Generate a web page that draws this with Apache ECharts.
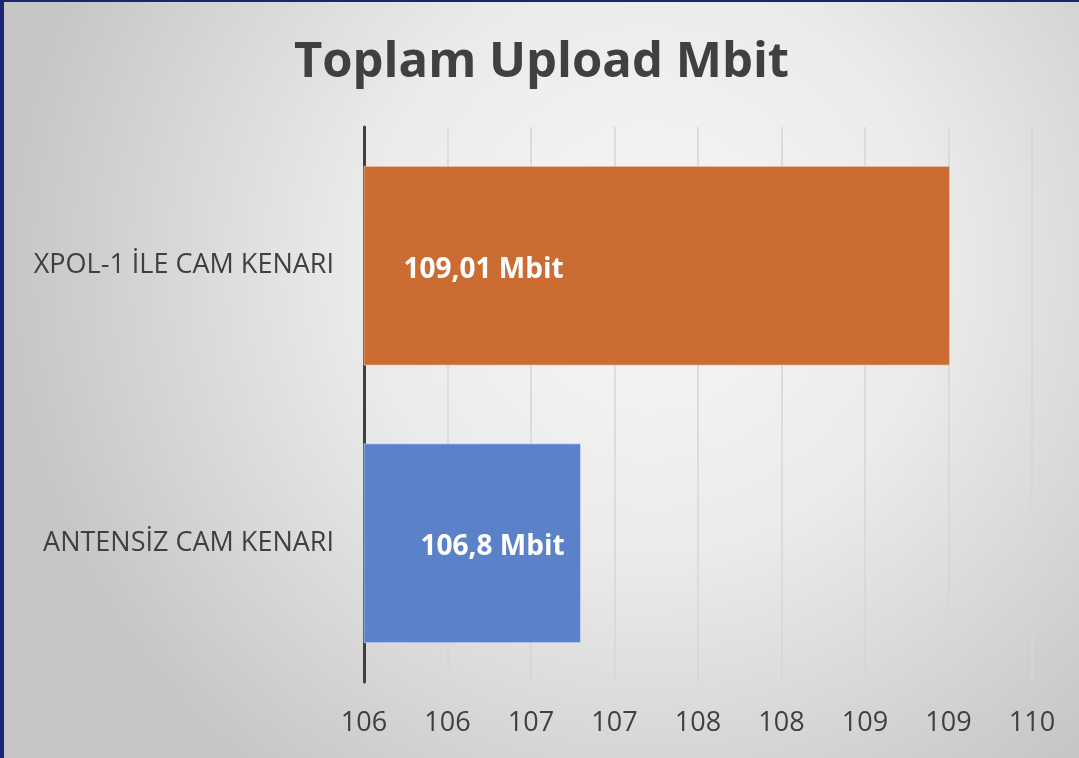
<!DOCTYPE html>
<html>
<head>
<meta charset="utf-8">
<script src="https://cdn.jsdelivr.net/npm/echarts@6/dist/echarts.min.js"></script>
<style>
  html, body { margin: 0; padding: 0; background: #1b2572; overflow: hidden; }
  #chart { position: absolute; left: 4px; top: 2px; width: 1075px; height: 756px; }
</style>
</head>
<body>
<div id="chart"></div>
<script>
// Toplam Upload Mbit - horizontal bar chart
var categories = ['ANTENSİZ CAM KENARI', 'XPOL-1 İLE CAM KENARI'];
var values = [106.8, 109.01];
var barColors = ['#5b82c8', '#cb6d33'];
var labelOffsets = [57, 40];

var axisMin = 105.5;
var axisMax = 109.5;
var axisStep = 0.5;

var textColor = '#404040';
var fontFamily = '"Open Sans", "Noto Sans", sans-serif';

var chart = echarts.init(document.getElementById('chart'));

var seriesData = values.map(function (v, i) {
  return {
    value: v,
    itemStyle: { color: barColors[i] },
    label: { position: [labelOffsets[i], '50%'], offset: [0, 4] }
  };
});

chart.setOption({
  backgroundColor: {
    type: 'radial', x: 0.6, y: 0.35, r: 0.85,
    colorStops: [
      { offset: 0, color: '#f7f7f7' },
      { offset: 0.45, color: '#ebebeb' },
      { offset: 1, color: '#c6c6c6' }
    ]
  },
  title: {
    text: 'Toplam Upload Mbit',
    left: 'center',
    top: 32,
    textStyle: { color: textColor, fontSize: 49, fontWeight: 'bold', fontFamily: fontFamily }
  },
  grid: { left: 360, right: 47, top: 125, bottom: 76 },
  xAxis: {
    type: 'value',
    min: axisMin,
    max: axisMax,
    interval: axisStep,
    axisLine: { show: false },
    axisTick: { show: false },
    axisLabel: {
      color: textColor,
      fontSize: 27,
      fontFamily: fontFamily,
      margin: 28,
      formatter: function (v) { return String(Math.round(v)); }
    },
    splitLine: { show: true, lineStyle: { color: '#d6d6d6', width: 1.5 } }
  },
  yAxis: {
    type: 'category',
    data: categories,
    axisLine: { show: true, lineStyle: { color: '#404040', width: 3 } },
    axisTick: { show: false },
    axisLabel: { color: textColor, fontSize: 27, fontFamily: fontFamily, margin: 30 },
    splitLine: { show: false }
  },
  series: [{
    type: 'bar',
    data: seriesData,
    barWidth: '72%',
    itemStyle: { borderColor: 'rgba(255,255,255,0.45)', borderWidth: 1 },
    label: {
      show: true,
      color: '#ffffff',
      fontSize: 28,
      fontWeight: 'bold',
      fontFamily: fontFamily,
      verticalAlign: 'middle',
      formatter: function (p) { return String(p.value).replace('.', ',') + ' Mbit'; }
    },
    animation: false
  }]
});
</script>
</body>
</html>
